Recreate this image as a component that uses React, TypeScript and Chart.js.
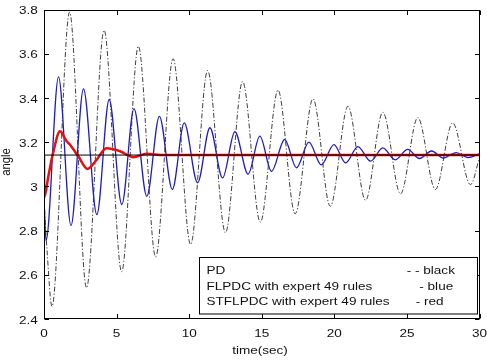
import React, { useEffect, useRef } from "react";
import { Chart, registerables } from "chart.js";
Chart.register(...registerables);

// ---- data ----
const pdT = [0, 0.2, 0.55, 1.76, 2.93, 4.14, 5.35, 6.5, 7.69, 8.89, 10.1, 11.27, 12.5, 13.68, 14.9, 16.12, 17.3, 18.53, 19.72, 20.94, 22.15, 23.34, 24.56, 25.75, 26.96, 28.15, 29.38, 30];
const pdV = [2.94, 2.72, 2.457, 3.788, 2.541, 3.706, 2.614, 3.634, 2.681, 3.577, 2.737, 3.524, 2.79, 3.474, 2.838, 3.435, 2.876, 3.396, 2.91, 3.362, 2.937, 3.335, 2.966, 3.311, 2.986, 3.287, 3.008, 3.13];

const blueT = [0, 0.14, 1.0, 1.86, 2.72, 3.64, 4.49, 5.36, 6.2, 7.08, 7.95, 8.84, 9.66, 10.58, 11.43, 12.3, 13.15, 14.06, 14.87, 15.67, 16.58, 17.39, 18.25, 19.1, 19.97, 20.78, 21.62, 22.5, 23.34, 24.19, 25.06, 25.86, 26.7, 27.5, 28.4, 29.2, 30];
const blueV = [2.94, 2.755, 3.495, 2.823, 3.441, 2.872, 3.393, 2.918, 3.352, 2.955, 3.317, 2.986, 3.287, 3.016, 3.265, 3.038, 3.247, 3.055, 3.227, 3.068, 3.212, 3.084, 3.2, 3.097, 3.189, 3.106, 3.18, 3.114, 3.174, 3.12, 3.167, 3.126, 3.16, 3.128, 3.153, 3.13, 3.147];

const redT = [0, 0.02, 0.3, 0.64, 1.1, 1.56, 1.78, 2.36, 3.0, 3.62, 4.3, 5.24, 6.16, 7.08, 8.0, 30];
const redV = [3.1416, 2.95, 3.046, 3.155, 3.249, 3.204, 3.189, 3.136, 3.079, 3.12, 3.172, 3.159, 3.132, 3.148, 3.142, 3.142];

const refT = [0, 30];
const refV = [3.1416, 3.1416];

const xTicks = [0, 5, 10, 15, 20, 25, 30];
const yTicks = [2.4, 2.6, 2.8, 3, 3.2, 3.4, 3.6, 3.8];
const yTickLabels = ["2.4", "2.6", "2.8", "3", "3.2", "3.4", "3.6", "3.8"];

const legendNames = ["PD", "FLPDC with expert 49 rules", "STFLPDC with expert 49 rules"];
const legendNotes = ["- - black", "- blue", "- red"];

const FS = 11.3;
const SX = 1.2;
const FONT = `${FS}px "Liberation Sans", Arial, sans-serif`;

function pts(t: number[], v: number[]) {
  return t.map((x, i) => ({ x, y: v[i] }));
}

function txt(ctx: CanvasRenderingContext2D, s: string, x: number, y: number, align: CanvasTextAlign) {
  ctx.save();
  ctx.translate(x, y);
  ctx.scale(SX, 1);
  ctx.textAlign = align;
  ctx.textBaseline = "alphabetic";
  ctx.fillText(s, 0, 0);
  ctx.restore();
}

const decorPlugin = {
  id: "decor",
  beforeDraw(chart: any) {
    const ctx = chart.ctx;
    ctx.save();
    ctx.fillStyle = "#fff";
    ctx.fillRect(0, 0, chart.width, chart.height);
    ctx.restore();
  },
  afterDraw(chart: any) {
    const ctx: CanvasRenderingContext2D = chart.ctx;
    const a = chart.chartArea;
    const xs = chart.scales.x;
    const ys = chart.scales.y;
    const L = Math.round(a.left) + 0.5;
    const R = Math.round(a.right) - 0.5;
    const T = Math.round(a.top) + 0.5;
    const B = Math.round(a.bottom) - 0.5;
    ctx.save();
    ctx.strokeStyle = "#000";
    ctx.lineWidth = 1;
    ctx.setLineDash([]);
    ctx.strokeRect(L, T, R - L, B - T);
    const TL = 4.5;
    ctx.beginPath();
    xTicks.forEach((v) => {
      const x = Math.round(xs.getPixelForValue(v)) + 0.5;
      ctx.moveTo(x, B);
      ctx.lineTo(x, B - TL);
      ctx.moveTo(x, T);
      ctx.lineTo(x, T + TL);
    });
    yTicks.forEach((v) => {
      const y = Math.round(ys.getPixelForValue(v)) + 0.5;
      ctx.moveTo(L, y);
      ctx.lineTo(L + TL, y);
      ctx.moveTo(R, y);
      ctx.lineTo(R - TL, y);
    });
    ctx.stroke();

    ctx.fillStyle = "#111";
    ctx.font = FONT;
    xTicks.forEach((v) => {
      txt(ctx, String(v), xs.getPixelForValue(v), 336.8, "center");
    });
    yTicks.forEach((v, i) => {
      txt(ctx, yTickLabels[i], 37.8, ys.getPixelForValue(v) + 4.6, "right");
    });
    txt(ctx, "time(sec)", 260, 353.5, "center");
    // y title
    ctx.save();
    ctx.translate(9.5, 162);
    ctx.scale(SX, 1);
    ctx.rotate(-Math.PI / 2);
    ctx.textAlign = "center";
    ctx.textBaseline = "alphabetic";
    ctx.fillText("angle", 0, 0);
    ctx.restore();

    // legend
    ctx.fillStyle = "#fff";
    ctx.fillRect(199.5, 257.5, 278, 56.5);
    ctx.strokeStyle = "#000";
    ctx.strokeRect(199.5, 257.5, 278, 56.5);
    ctx.fillStyle = "#111";
    const baseY = [274.4, 289.8, 305.1];
    const noteX = [406.7, 419.3, 415.7];
    legendNames.forEach((s, i) => {
      txt(ctx, s, 206.5, baseY[i], "left");
      txt(ctx, legendNotes[i], noteX[i], baseY[i], "left");
    });
    ctx.restore();
  },
};

export default function App() {
  const ref = useRef<HTMLCanvasElement | null>(null);
  useEffect(() => {
    document.body.style.margin = "0";
    document.body.style.overflow = "hidden";
    const chart = new Chart(ref.current as HTMLCanvasElement, {
      type: "line",
      data: {
        datasets: [
          {
            label: "reference",
            data: pts(refT, refV),
            borderColor: "#000",
            borderWidth: 1,
            pointRadius: 0,
          },
          {
            label: legendNames[2],
            data: pts(redT, redV),
            borderColor: "#e41010",
            borderWidth: 2.5,
            pointRadius: 0,
            cubicInterpolationMode: "monotone",
          },
          {
            label: legendNames[1],
            data: pts(blueT, blueV),
            borderColor: "#1c1cc0",
            borderWidth: 1.3,
            pointRadius: 0,
            cubicInterpolationMode: "monotone",
          },
          {
            label: legendNames[0],
            data: pts(pdT, pdV),
            borderColor: "rgba(0,0,0,0.85)",
            borderWidth: 0.9,
            borderDash: [5, 2, 1.2, 2],
            pointRadius: 0,
            cubicInterpolationMode: "monotone",
          },
        ],
      },
      options: {
        animation: false,
        responsive: true,
        maintainAspectRatio: false,
        events: [],
        layout: { padding: { left: 44, top: 9.5, right: 7.5, bottom: 43 } },
        plugins: { legend: { display: false }, tooltip: { enabled: false }, title: { display: false } },
        scales: {
          x: { type: "linear", min: 0, max: 30, display: false },
          y: { type: "linear", min: 2.4, max: 3.8, display: false },
        },
      },
      plugins: [decorPlugin],
    });
    return () => chart.destroy();
  }, []);
  return (
    <div style={{ width: 487, height: 362, position: "relative" }}>
      <canvas ref={ref} />
    </div>
  );
}
